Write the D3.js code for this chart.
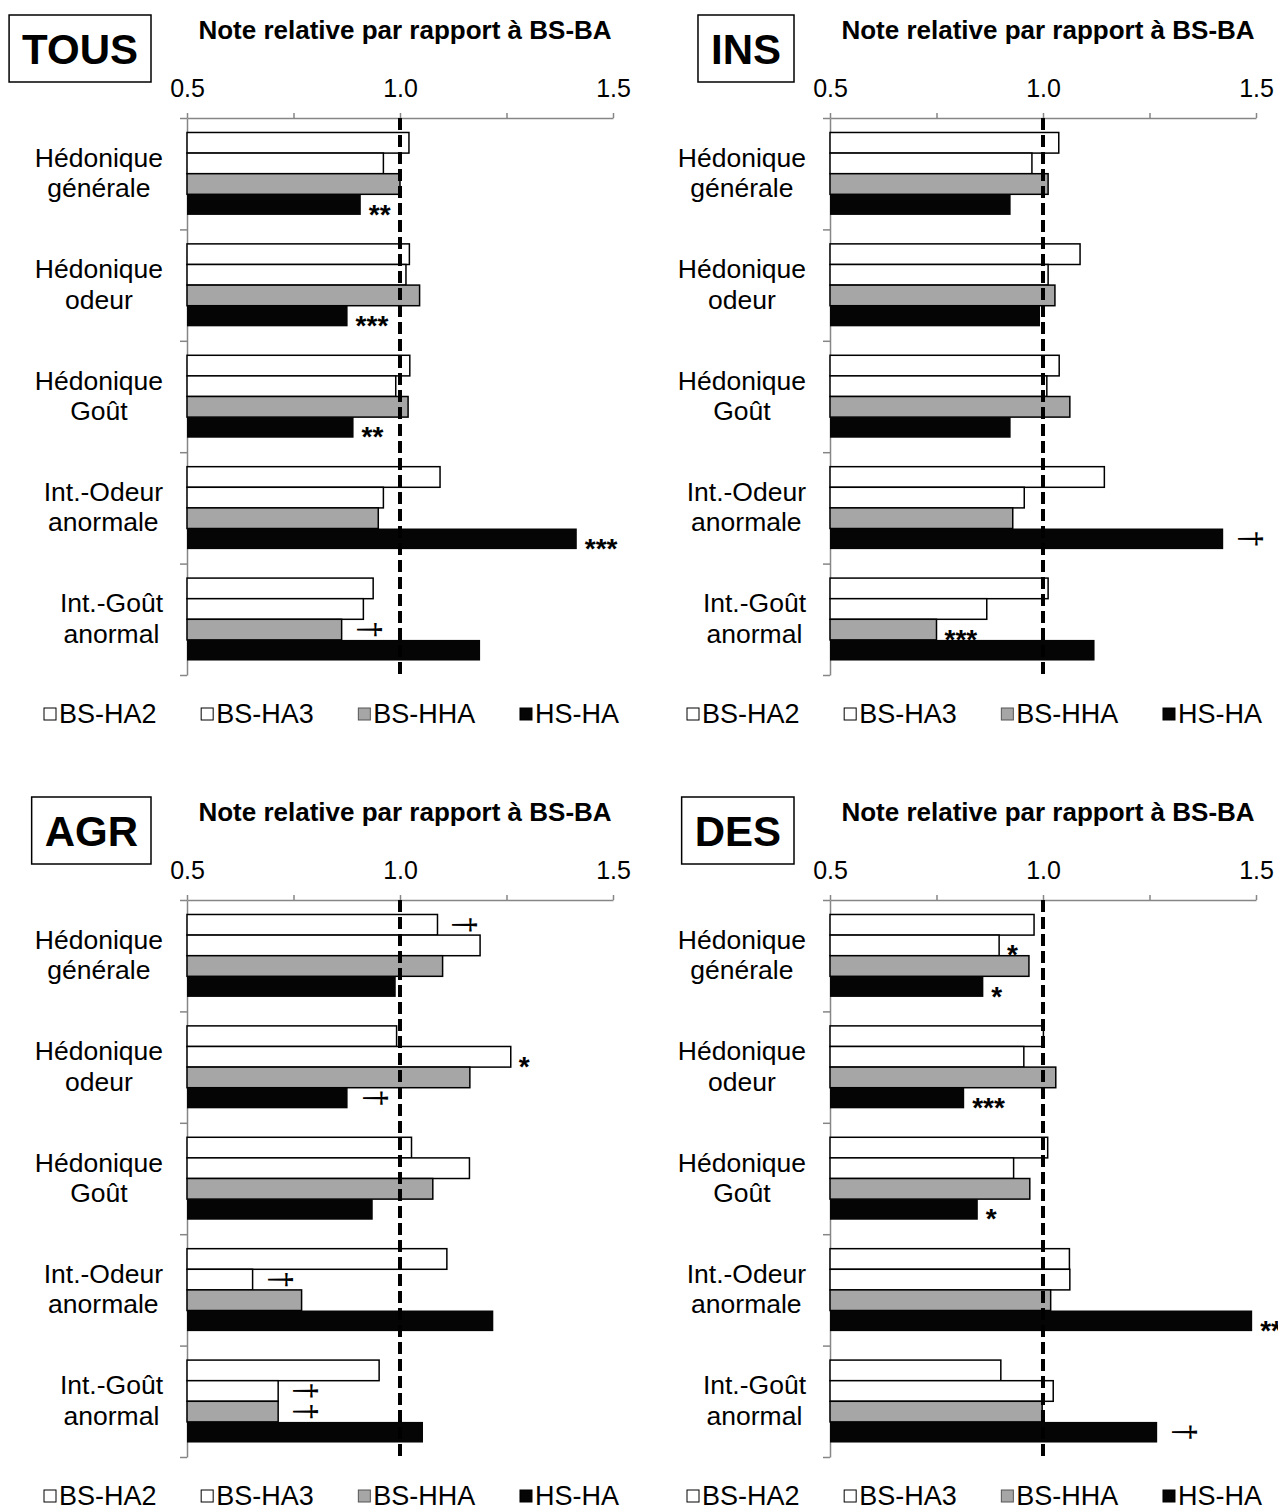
<!DOCTYPE html>
<meta charset="utf-8">
<script src="https://cdn.jsdelivr.net/npm/d3@7"></script>
<style>
body { margin: 0; background: #fff; }
text { font-family: "Liberation Sans", Arial, sans-serif; fill: #000; }
.axis path, .axis line { stroke: #868686; stroke-width: 1.5px; }
</style>
<body>
<script>

// categories / series
var categories = [["Hédonique", "générale"], ["Hédonique", "odeur"], ["Hédonique", "Goût"],
                  ["Int.-Odeur", "anormale"], ["Int.-Goût", "anormal"]];
var series = ["BS-HA2", "BS-HA3", "BS-HHA", "HS-HA"];
var seriesFill = ["#ffffff", "#ffffff", "#a6a6a6", "#050505"];
var tickValues = [0.5, 0.75, 1.0, 1.25, 1.5];
var tickLabels = ["0.5", "", "1.0", "", "1.5"];
var axisTitle = "Note relative par rapport à BS-BA";
var panelNames = ["TOUS", "INS", "AGR", "DES"];

// relative scores, one row per category: BS-HA2, BS-HA3, BS-HHA, HS-HA
var tousValues = [
  [1.021, 0.961, 1.000, 0.908],
  [1.022, 1.014, 1.046, 0.877],
  [1.023, 0.990, 1.019, 0.891],
  [1.094, 0.961, 0.949, 1.415],
  [0.937, 0.914, 0.863, 1.188]
];
var tousSig = [["", "", "", "**"], ["", "", "", "***"], ["", "", "", "**"], ["", "", "", "***"], ["", "", "†", ""]];

var insValues = [
  [1.037, 0.974, 1.012, 0.924],
  [1.087, 1.012, 1.028, 0.993],
  [1.038, 1.009, 1.063, 0.924],
  [1.144, 0.956, 0.929, 1.423],
  [1.012, 0.868, 0.750, 1.121]
];
var insSig = [["", "", "", ""], ["", "", "", ""], ["", "", "", ""], ["", "", "", "†"], ["", "", "***", ""]];

var agrValues = [
  [1.088, 1.188, 1.100, 0.990],
  [0.992, 1.260, 1.164, 0.877],
  [1.027, 1.163, 1.077, 0.936],
  [1.110, 0.654, 0.769, 1.219],
  [0.951, 0.714, 0.714, 1.054]
];
var agrSig = [["†", "", "", ""], ["", "*", "", "†"], ["", "", "", ""], ["", "†", "", ""], ["", "†", "†", ""]];

var desValues = [
  [0.979, 0.897, 0.967, 0.860],
  [1.001, 0.955, 1.030, 0.815],
  [1.011, 0.931, 0.969, 0.847],
  [1.062, 1.063, 1.018, 1.491],
  [0.901, 1.024, 0.998, 1.268]
];
var desSig = [["", "*", "", "*"], ["", "", "", "***"], ["", "", "", "*"], ["", "", "", "**"], ["", "", "", "†"]];

var panelValues = [tousValues, insValues, agrValues, desValues];
var panelSig = [tousSig, insSig, agrSig, desSig];

var width = 1278, height = 1510;
var plotW = 426, plotH = 557;
var origins = [[187, 118], [830, 118], [187, 900], [830, 900]];

var svg = d3.select("body").append("svg")
    .attr("width", width)
    .attr("height", height);

var x = d3.scaleLinear().domain([0.5, 1.5]).range([0, plotW]);
var y = d3.scaleBand().domain(d3.range(categories.length)).range([0, plotH])
    .paddingInner(0.26).paddingOuter(0.13);
var ySub = d3.scaleBand().domain(series).range([0, y.bandwidth()]);
var yEdge = d3.scaleLinear().domain([0, categories.length]).range([0, plotH]);

function stext(sel, tx, ty, str, size) {
  return sel.append("text")
      .attr("x", tx).attr("y", ty)
      .style("font-size", size + "px")
      .text(str);
}

panelNames.forEach(function(name, p) {
  var g = svg.append("g")
      .attr("transform", "translate(" + origins[p][0] + "," + origins[p][1] + ")");
  var values = panelValues[p], sig = panelSig[p];

  // panel name in its box
  var lab = stext(g, 0, -54, name, 42).style("font-weight", "bold").attr("text-anchor", "middle");
  var lw = lab.node().getComputedTextLength();
  var boxW = lw + 26, boxR = -36;
  g.insert("rect", "text")
      .attr("x", boxR - boxW).attr("y", -103)
      .attr("width", boxW).attr("height", 67)
      .attr("fill", "#fff").attr("stroke", "#000").attr("stroke-width", 1.5);
  lab.attr("x", boxR - boxW / 2);

  // title
  stext(g, 218, -79, axisTitle, 26).style("font-weight", "bold").attr("text-anchor", "middle");

  // axes
  var xa = g.append("g").attr("class", "axis")
      .call(d3.axisTop(x).tickValues(tickValues)
        .tickFormat(function(d, i) { return tickLabels[i]; })
        .tickSize(5).tickSizeOuter(0).tickPadding(16));
  xa.attr("font-family", null).attr("font-size", null);
  xa.selectAll("text").style("font-size", "25px").attr("fill", "#000");

  g.append("g").attr("class", "axis")
      .call(d3.axisLeft(yEdge).tickValues(d3.range(categories.length + 1))
        .tickFormat("").tickSize(7).tickSizeOuter(0));

  // category labels: block right-aligned, lines centred in it
  categories.forEach(function(lines, i) {
    var cy = y(i) + y.bandwidth() / 2;
    var t1 = stext(g, 0, cy - 7, lines[0], 26.5).attr("text-anchor", "middle");
    var t2 = stext(g, 0, cy + 23.5, lines[1], 26.5).attr("text-anchor", "middle");
    var mw = Math.max(t1.node().getComputedTextLength(), t2.node().getComputedTextLength());
    t1.attr("x", -24 - mw / 2);
    t2.attr("x", -24 - mw / 2);
  });

  // bars
  var grp = g.selectAll(".grp").data(values).enter().append("g")
      .attr("transform", function(d, i) { return "translate(0," + y(i) + ")"; });
  grp.selectAll("rect").data(function(d) { return d; }).enter().append("rect")
      .attr("x", x(0.5))
      .attr("y", function(d, j) { return ySub(series[j]); })
      .attr("width", function(d) { return x(d) - x(0.5); })
      .attr("height", ySub.bandwidth())
      .attr("fill", function(d, j) { return seriesFill[j]; })
      .attr("stroke", function(d, j) { return j == 3 ? "none" : "#000"; })
      .attr("stroke-width", 1.5);

  // reference line at 1.0
  g.append("line")
      .attr("x1", x(1)).attr("x2", x(1))
      .attr("y1", 0).attr("y2", plotH + 3)
      .attr("stroke", "#000").attr("stroke-width", 4)
      .attr("stroke-dasharray", "12,5");

  // significance marks
  values.forEach(function(row, i) {
    row.forEach(function(v, j) {
      var s = sig[i][j];
      if (!s) return;
      var by = y(i) + ySub(series[j]) + ySub.bandwidth() / 2;
      if (s == "†") {
        g.append("text")
            .attr("transform", "translate(" + (x(v) + 26) + "," + by + ") rotate(90)")
            .attr("text-anchor", "middle")
            .attr("dy", "0.29em")
            .style("font-size", "31px")
            .text(s);
      } else {
        stext(g, x(v) + 8, by + 19, s, 28).style("font-weight", "bold");
      }
    });
  });

  // legend
  var items = series.map(function(s, j) {
    var t = stext(g, 0, 605, s, 27);
    return {t: t, w: t.node().getComputedTextLength(), j: j};
  });
  var left = -143, right = 432;
  var used = d3.sum(items, function(d) { return 15 + d.w; });
  var gap = (right - left - used) / (items.length - 1);
  var cur = left;
  items.forEach(function(d) {
    g.append("rect")
        .attr("x", cur).attr("y", 590)
        .attr("width", 12).attr("height", 12)
        .attr("fill", seriesFill[d.j])
        .attr("stroke", d.j == 2 ? "#555" : "#000").attr("stroke-width", 1);
    d.t.attr("x", cur + 15);
    cur += 15 + d.w + gap;
  });
});

</script>
</body>
